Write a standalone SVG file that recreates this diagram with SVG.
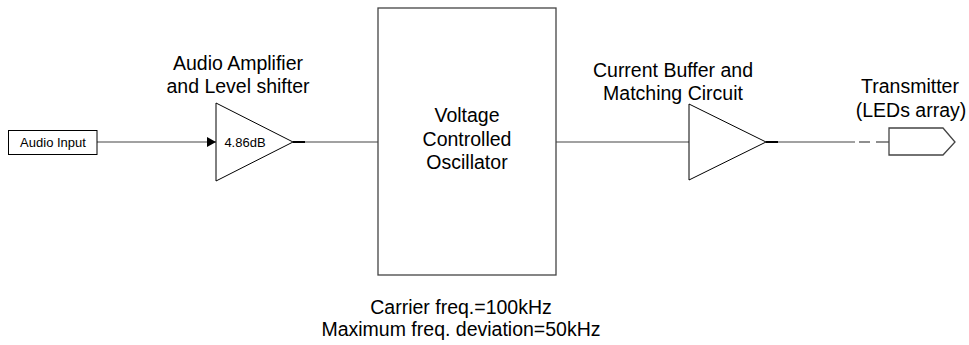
<svg xmlns="http://www.w3.org/2000/svg" width="969" height="345" viewBox="0 0 969 345">
<style>
text{font-family:"Liberation Sans",Arial,sans-serif;fill:#000;text-anchor:middle}
.lbl{font-size:19.5px}
.small{font-size:13px}
.shape{fill:#fff;stroke:#000;stroke-width:1}
.box{fill:#fff;stroke:#444;stroke-width:1.3}
.wire{fill:none;stroke:#444;stroke-width:1.2}
.stub{stroke:#000;stroke-width:2}
</style>
<defs>
<marker id="arr" markerWidth="10" markerHeight="10" refX="9" refY="5" orient="auto" markerUnits="userSpaceOnUse">
<path d="M0,0 L9,5 L0,10 Z" fill="#000"/>
</marker>
</defs>
<g id="connectors">
<line class="wire" x1="97" y1="142" x2="216" y2="142" marker-end="url(#arr)"/>
<line class="stub" x1="293" y1="142" x2="305" y2="142"/>
<line class="wire" x1="305" y1="142" x2="378" y2="142"/>
<line class="wire" x1="556" y1="142" x2="689" y2="142"/>
<line class="stub" x1="766" y1="142" x2="778" y2="142"/>
<line class="wire" x1="778" y1="142" x2="855" y2="142"/>
<line class="wire" x1="859" y1="142" x2="870" y2="142"/>
<line class="wire" x1="876" y1="142" x2="889" y2="142"/>
</g>
<g id="audio-input">
<rect class="shape" x="8.5" y="130.5" width="88.5" height="24"/>
<text class="small" x="53" y="147">Audio Input</text>
</g>
<g id="amplifier">
<polygon class="shape" points="216,103 216,181 293,142"/>
<text class="small" x="245" y="147">4.86dB</text>
<text class="lbl" x="238" y="70">Audio Amplifier</text>
<text class="lbl" x="238" y="93">and Level shifter</text>
</g>
<g id="vco">
<rect class="box" x="378" y="8" width="178" height="267"/>
<text class="lbl" x="467" y="122">Voltage</text>
<text class="lbl" x="467" y="146">Controlled</text>
<text class="lbl" x="467" y="169">Oscillator</text>
<text class="lbl" x="461" y="314">Carrier freq.=100kHz</text>
<text class="lbl" x="461" y="336">Maximum freq. deviation=50kHz</text>
</g>
<g id="buffer">
<polygon class="shape" points="689,104 689,180 766,142"/>
<text class="lbl" x="673" y="77">Current Buffer and</text>
<text class="lbl" x="673" y="100">Matching Circuit</text>
</g>
<g id="transmitter">
<polygon class="box" points="889,128 943,128 955,142 943,155 889,155"/>
<text class="lbl" x="910" y="93">Transmitter</text>
<text class="lbl" x="911" y="117">(LEDs array)</text>
</g>
</svg>
